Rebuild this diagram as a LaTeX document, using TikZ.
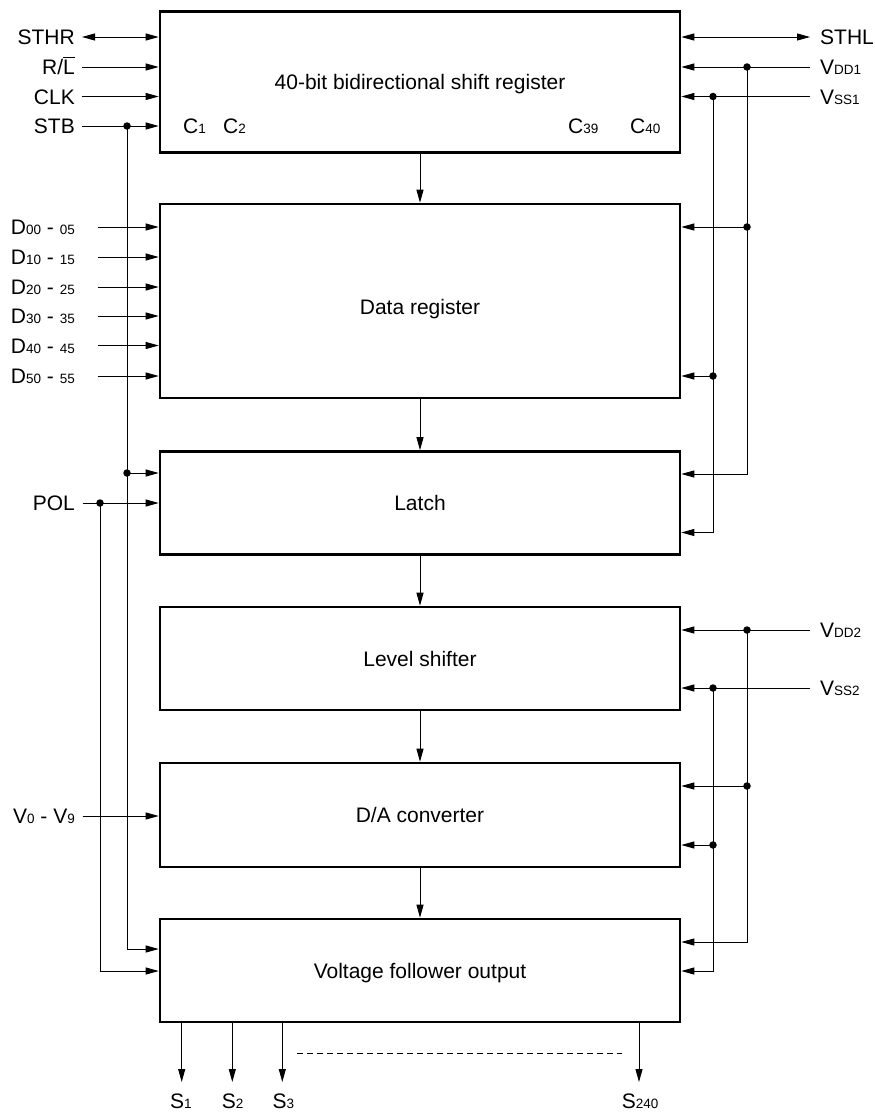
\documentclass[tikz,border=0pt]{standalone}
\usepackage{fontspec}
\setmainfont{Liberation Sans}
\usetikzlibrary{arrows.meta}
\newcommand{\sml}[1]{{\fontsize{13.5pt}{14pt}\selectfont #1}}
\newcommand{\ovl}[1]{\setbox0\hbox{#1}\rlap{\raisebox{16.2pt}{\rule{\wd0}{1.1pt}}}\box0}
\begin{document}
\begin{tikzpicture}[x=1pt,y=-1pt,
  every node/.style={font=\fontsize{21pt}{24pt}\selectfont},
  block/.style={draw, line width=2.6pt, inner sep=0pt, minimum width=520pt, text height=15pt, text depth=0pt},
  lbl/.style={inner sep=0pt, text height=15pt, text depth=0pt},
  wire/.style={line width=0.9pt},
  arr/.style={wire, -{Triangle[length=13pt,width=7pt]}},
  barr/.style={wire, {Triangle[length=13pt,width=7pt]}-{Triangle[length=13pt,width=7pt]}},
  dot/.style={circle, fill, inner sep=0pt, minimum size=7.5pt}
]
\useasboundingbox (0,0) rectangle (875,1116);
% blocks
\node[block, minimum height=141pt] (sr) at (420,82.2) {40-bit bidirectional shift register};
\node[block, minimum height=194pt, text height=26pt] (dr) at (420,301) {Data register};
\node[block, minimum height=103pt] (la) at (420,503) {Latch};
\node[block, minimum height=103pt] (ls) at (420,658.5) {Level shifter};
\node[block, minimum height=104pt] (da) at (420,815) {D/A converter};
\node[block, minimum height=103pt] (vf) at (420,970.5) {Voltage follower output};
\draw[arr] (sr.south) -- (dr.north);
\draw[arr] (dr.south) -- (la.north);
\draw[arr] (la.south) -- (ls.north);
\draw[arr] (ls.south) -- (da.north);
\draw[arr] (da.south) -- (vf.north);
% C labels
\node[lbl, anchor=west] (c1) at (183,126) {C\sml{1}};
\node[lbl, anchor=west] (c2) at (223,126) {C\sml{2}};
\node[lbl, anchor=west] (c39) at (568,126) {C\sml{39}};
\node[lbl, anchor=west] (c40) at (630,126) {C\sml{40}};
% left top signals
\node[lbl, anchor=east] (sthr) at (75,37) {STHR};
\node[lbl, anchor=east] (rl) at (75,67) {R/\ovl{L}};
\node[lbl, anchor=east] (clk) at (75,96.5) {CLK};
\node[lbl, anchor=east] (stb) at (75,126) {STB};
\draw[barr] ([xshift=7pt]sthr.east) -- (sthr.east -| sr.west);
\draw[arr] ([xshift=7pt]rl.east) -- (rl.east -| sr.west);
\draw[arr] ([xshift=7pt]clk.east) -- (clk.east -| sr.west);
\draw[arr] ([xshift=7pt]stb.east) -- (stb.east -| sr.west);
\node[dot] (stbj) at (127,126) {};
\node[dot] (stbla) at (127,473) {};
\draw[wire] (stbj.center) -- (stbla.center);
\draw[arr] (stbla.center) -- (la.west |- stbla);
\draw[arr] (stbla.center) |- (vf.west |- 0,949);
% POL
\node[lbl, anchor=east] (pol) at (75,503) {POL};
\draw[arr] ([xshift=8pt]pol.east) -- (pol.east -| la.west);
\node[dot] (polj) at (100,503) {};
\draw[arr] (polj.center) |- (vf.west |- 0,971);
% data inputs
\node[lbl, anchor=east] (d0) at (75,227) {D\sml{00} - \sml{05}};
\node[lbl, anchor=east] (d1) at (75,257) {D\sml{10} - \sml{15}};
\node[lbl, anchor=east] (d2) at (75,287) {D\sml{20} - \sml{25}};
\node[lbl, anchor=east] (d3) at (75,316) {D\sml{30} - \sml{35}};
\node[lbl, anchor=east] (d4) at (75,345.5) {D\sml{40} - \sml{45}};
\node[lbl, anchor=east] (d5) at (75,376) {D\sml{50} - \sml{55}};
\foreach \n in {d0,d1,d2,d3,d4,d5}{
  \draw[arr] ([xshift=22.7pt]\n.east) -- (\n.east -| dr.west);
}
% V0-V9
\node[lbl, anchor=east] (vin) at (75,816) {V\sml{0} - V\sml{9}};
\draw[arr] ([xshift=7.7pt]vin.east) -- (vin.east -| da.west);
% right side top
\node[lbl, anchor=west] (sthl) at (820,37) {STHL};
\draw[barr] (sr.east |- sthl.west) -- ([xshift=-10pt]sthl.west);
\node[lbl, anchor=west] (vdd1) at (820,67) {V\sml{DD1}};
\draw[arr] ([xshift=-10pt]vdd1.west) -- (sr.east |- vdd1.west);
\node[lbl, anchor=west] (vss1) at (820,96.5) {V\sml{SS1}};
\draw[arr] ([xshift=-10pt]vss1.west) -- (sr.east |- vss1.west);
\node[dot] (vdd1j) at (747,67) {};
\node[dot] (vss1j) at (713,96.5) {};
\node[dot] (vdddr) at (747,227) {};
\node[dot] (vssdr) at (713,376) {};
\draw[arr] (vdddr.center) -- (dr.east |- vdddr);
\draw[arr] (vssdr.center) -- (dr.east |- vssdr);
\draw[wire] (vdd1j.center) -- (vdddr.center);
\draw[wire] (vss1j.center) -- (vssdr.center);
\draw[arr] (vdddr.center) |- (la.east |- 0,474);
\draw[arr] (vssdr.center) |- (la.east |- 0,532.5);
% right side lower
\node[lbl, anchor=west] (vdd2) at (820,630) {V\sml{DD2}};
\draw[arr] ([xshift=-10pt]vdd2.west) -- (ls.east |- vdd2.west);
\node[lbl, anchor=west] (vss2) at (820,688) {V\sml{SS2}};
\draw[arr] ([xshift=-10pt]vss2.west) -- (ls.east |- vss2.west);
\node[dot] (vdd2j) at (747,630) {};
\node[dot] (vss2j) at (713,688) {};
\node[dot] (vddda) at (747,786) {};
\node[dot] (vssda) at (713,845) {};
\draw[arr] (vddda.center) -- (da.east |- vddda);
\draw[arr] (vssda.center) -- (da.east |- vssda);
\draw[wire] (vdd2j.center) -- (vddda.center);
\draw[wire] (vss2j.center) -- (vssda.center);
\draw[arr] (vddda.center) |- (vf.east |- 0,942);
\draw[arr] (vssda.center) |- (vf.east |- 0,971);
% outputs
\coordinate (s1e) at (181.7,1082);
\coordinate (s2e) at (232.3,1082);
\coordinate (s3e) at (282.3,1082);
\coordinate (s4e) at (639,1082);
\foreach \c in {s1e,s2e,s3e,s4e}{
  \draw[arr] (vf.south -| \c) -- (\c);
}
\node[lbl, anchor=west] (s1) at (170,1101) {S\sml{1}};
\node[lbl, anchor=west] (s2) at (221.7,1101) {S\sml{2}};
\node[lbl, anchor=west] (s3) at (272.3,1101) {S\sml{3}};
\node[lbl, anchor=west] (s240) at (621.7,1101) {S\sml{240}};
\coordinate (dsa) at (297,1053.3);
\coordinate (dsb) at (622,1053.3);
\draw[wire, dash pattern=on 6pt off 4pt] (dsa) -- (dsb);
\end{tikzpicture}
\end{document}
